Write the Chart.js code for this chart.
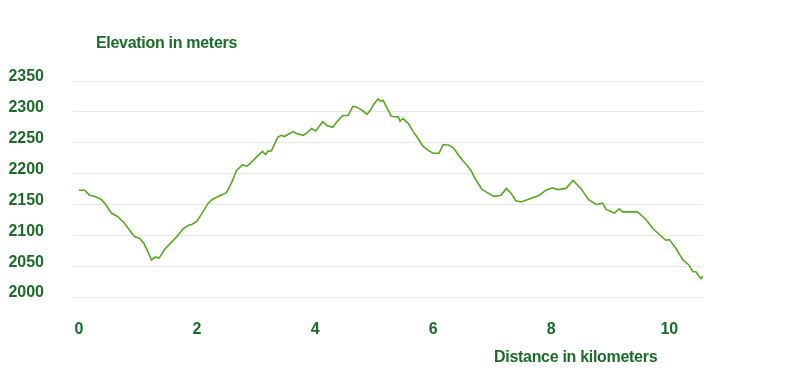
<!DOCTYPE html>
<html>
<head>
<meta charset="utf-8">
<script src="https://cdn.jsdelivr.net/npm/chart.js@4"></script>
<style>
    html, body { margin: 0; padding: 0; background: #fff; }
    #wrap { position: relative; width: 800px; height: 384px; }
    .axis-title {
        position: absolute;
        font: bold 16px "Liberation Sans", Arial, sans-serif;
        letter-spacing: -0.3px;
        color: #1c6b29;
        white-space: nowrap;
    }
</style>
</head>
<body>
<div id="wrap">
    <canvas id="elevChart" width="800" height="384"></canvas>
    <div class="axis-title" style="left:96px; top:34px;">Elevation in meters</div>
    <div class="axis-title" style="left:494px; top:348px;">Distance in kilometers</div>
</div>
<script>
// distance along the route (km)
const distances = [
    0.00, 0.10, 0.18, 0.27, 0.38, 0.46, 0.55, 0.66, 0.77, 0.86,
    0.94, 1.03, 1.10, 1.17, 1.23, 1.30, 1.36, 1.45, 1.57, 1.68,
    1.76, 1.85, 1.92, 2.00, 2.10, 2.19, 2.26, 2.36, 2.50, 2.58,
    2.67, 2.77, 2.85, 2.92, 3.01, 3.11, 3.16, 3.20, 3.26, 3.37,
    3.43, 3.48, 3.57, 3.63, 3.68, 3.80, 3.86, 3.94, 4.01, 4.13,
    4.20, 4.30, 4.38, 4.47, 4.56, 4.64, 4.70, 4.79, 4.88, 4.94,
    4.99, 5.07, 5.11, 5.15, 5.22, 5.29, 5.35, 5.41, 5.44, 5.49,
    5.58, 5.66, 5.75, 5.83, 5.91, 6.00, 6.10, 6.17, 6.27, 6.35,
    6.45, 6.55, 6.64, 6.71, 6.83, 6.94, 7.03, 7.15, 7.24, 7.32,
    7.40, 7.49, 7.66, 7.80, 7.91, 8.02, 8.11, 8.25, 8.37, 8.50,
    8.63, 8.76, 8.87, 8.93, 9.07, 9.15, 9.21, 9.46, 9.60, 9.72,
    9.94, 10.00, 10.11, 10.23, 10.33, 10.40, 10.45, 10.51, 10.54, 10.57
];

// elevation (m)
const elevations = [
    2173, 2173, 2165, 2163, 2158, 2149, 2136, 2130, 2120, 2108,
    2098, 2095, 2087, 2073, 2060, 2065, 2063, 2077, 2089, 2100,
    2110, 2116, 2118, 2123, 2138, 2152, 2158, 2163, 2169, 2184,
    2205, 2214, 2212, 2218, 2227, 2236, 2231, 2236, 2237, 2259,
    2262, 2260, 2265, 2268, 2265, 2262, 2266, 2273, 2269, 2284,
    2278, 2275, 2285, 2294, 2294, 2309, 2308, 2303, 2296, 2303,
    2312, 2321, 2317, 2319, 2306, 2293, 2292, 2292, 2285, 2289,
    2281, 2268, 2256, 2244, 2238, 2233, 2233, 2247, 2246, 2241,
    2227, 2216, 2205, 2192, 2174, 2168, 2163, 2165, 2176, 2168,
    2156, 2154, 2160, 2165, 2173, 2177, 2174, 2176, 2189, 2176,
    2158, 2150, 2152, 2142, 2136, 2143, 2138, 2138, 2126, 2111,
    2092, 2093, 2079, 2060, 2052, 2041, 2041, 2033, 2030, 2034
];

const xTicks = [0, 2, 4, 6, 8, 10];
const yTicks = [2000, 2050, 2100, 2150, 2200, 2250, 2300, 2350];

const textColor = '#1c6b29';
const tickFont = { family: "'Liberation Sans', Arial, sans-serif", size: 16, weight: 'bold' };

const points = distances.map((d, i) => ({ x: d, y: elevations[i] }));

new Chart(document.getElementById('elevChart'), {
    type: 'line',
    data: {
        datasets: [{
            label: 'Elevation',
            data: points,
            borderColor: '#52ab1c',
            borderWidth: 1.6,
            pointRadius: 0,
            tension: 0,
            fill: false
        }]
    },
    options: {
        responsive: false,
        animation: false,
        layout: { padding: { left: 8, top: 81, right: 97, bottom: 47 } },
        plugins: {
            legend: { display: false },
            tooltip: { enabled: false }
        },
        scales: {
            x: {
                type: 'linear',
                min: -0.1,
                max: 10.57,
                afterBuildTicks: function(scale) {
                    scale.ticks = xTicks.map(v => ({ value: v }));
                },
                // chart.js counts the tick padding twice, so pin the size
                afterFit: function(scale) {
                    scale.height = 40;
                },
                grid: { display: false, drawTicks: false },
                border: { display: false },
                ticks: {
                    color: textColor,
                    font: tickFont,
                    padding: 23,
                    maxRotation: 0,
                    callback: v => String(v)
                }
            },
            y: {
                min: 2000,
                max: 2350,
                afterBuildTicks: function(scale) {
                    scale.ticks = yTicks.map(v => ({ value: v }));
                },
                afterFit: function(scale) {
                    scale.width = 65;
                },
                grid: { color: '#e8e8e8', lineWidth: 1, drawTicks: false },
                border: { display: false },
                ticks: {
                    color: textColor,
                    font: tickFont,
                    padding: 29,
                    labelOffset: -4,
                    callback: v => String(v)
                }
            }
        }
    }
});
</script>
</body>
</html>
